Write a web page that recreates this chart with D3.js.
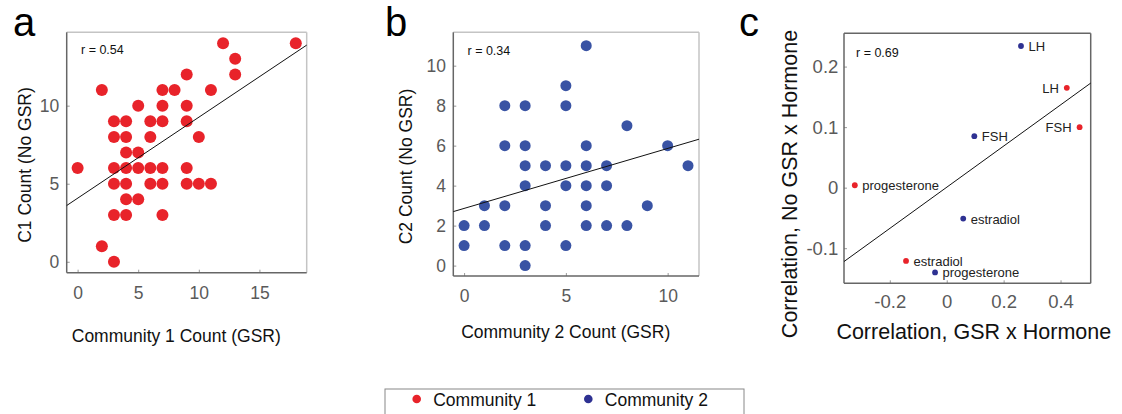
<!DOCTYPE html>
<html>
<head>
<meta charset="utf-8">
<script src="https://cdn.jsdelivr.net/npm/d3@7"></script>
<style>
  body { margin: 0; background: #fff; }
  svg text { font-family: "Liberation Sans", Arial, Helvetica, sans-serif; }
  .tick text { fill: #5a5a5a; }
  .tick line { stroke: #999; }
</style>
</head>
<body>
<svg id="chart" width="1122" height="414"></svg>
<script>
// panel a: community 1 counts, [GSR, No GSR]
var countsC1 = [
  [0, 6], [2, 11], [2, 1],
  [3, 9], [3, 8], [3, 6], [3, 5], [3, 3], [3, 0],
  [4, 9], [4, 8], [4, 7], [4, 6], [4, 5], [4, 4], [4, 3],
  [5, 10], [5, 7], [5, 6], [5, 4],
  [6, 9], [6, 8], [6, 6], [6, 5],
  [7, 11], [7, 10], [7, 9], [7, 6], [7, 5], [7, 3],
  [8, 11],
  [9, 12], [9, 10], [9, 9], [9, 6], [9, 5],
  [10, 8], [10, 5],
  [11, 11], [11, 5],
  [12, 14], [13, 13], [13, 12], [18, 14]
];
// panel b: community 2 counts
var countsC2 = [
  [0, 2], [0, 1], [1, 3], [1, 2],
  [2, 8], [2, 6], [2, 3], [2, 1],
  [3, 8], [3, 6], [3, 5], [3, 4], [3, 1], [3, 0],
  [4, 5], [4, 3], [4, 2],
  [5, 9], [5, 8], [5, 5], [5, 4], [5, 1],
  [6, 11], [6, 6], [6, 5], [6, 4], [6, 3], [6, 2],
  [7, 5], [7, 4], [7, 2],
  [8, 7], [8, 2], [9, 3], [10, 6], [11, 5]
];
// panel c: hormone correlations [GSR, No GSR]
var hormones = ["LH", "FSH", "estradiol", "progesterone"];
var corrC1 = [[0.422, 0.165], [0.467, 0.100], [-0.143, -0.121], [-0.323, 0.004]];
var corrC2 = [[0.261, 0.234], [0.097, 0.085], [0.058, -0.051], [-0.041, -0.140]];

// fitted lines [intercept, slope] and r values
var fitA = [4.07, 0.519], fitB = [2.86, 0.30], fitC = [0.0007, 0.34];
var rValues = ["r = 0.54", "r = 0.34", "r = 0.69"];

var ticksAx = [0, 5, 10, 15], ticksAy = [0, 5, 10];
var ticksBx = [0, 5, 10], ticksBy = [0, 2, 4, 6, 8, 10];
var ticksCx = [-0.2, 0, 0.2, 0.4], ticksCy = [-0.1, 0, 0.1, 0.2];

var legendNames = ["Community 1", "Community 2"];

var red = "#e8232a", blueB = "#3953a4", blueC = "#2e3192";

var svg = d3.select("#chart");

function panel(opt) {
  var x = d3.scaleLinear().domain(opt.xd).range([opt.l, opt.r]);
  var y = d3.scaleLinear().domain(opt.yd).range([opt.b, opt.t]);
  var g = svg.append("g");

  var fmt = opt.fmt || function (d) { return d; };

  var xa = g.append("g")
      .attr("transform", "translate(0," + opt.b + ")")
      .call(d3.axisBottom(x).tickValues(opt.xt).tickSize(-3).tickPadding(opt.xpad).tickFormat(fmt));
  xa.select(".domain").remove();
  xa.selectAll("text").style("font-size", opt.tickFont + "px");

  var ya = g.append("g")
      .attr("transform", "translate(" + opt.l + ",0)")
      .call(d3.axisLeft(y).tickValues(opt.yt).tickSize(-3).tickPadding(opt.ypad).tickFormat(fmt));
  ya.select(".domain").remove();
  ya.selectAll("text").style("font-size", opt.tickFont + "px");

  // frame
  g.append("line").attr("x1", opt.l).attr("x2", opt.r).attr("y1", opt.t).attr("y2", opt.t)
      .attr("stroke", opt.frameLight).attr("stroke-width", 1.5);
  g.append("line").attr("x1", opt.r).attr("x2", opt.r).attr("y1", opt.t).attr("y2", opt.b)
      .attr("stroke", opt.frameLight).attr("stroke-width", 1.5);
  g.append("line").attr("x1", opt.l).attr("x2", opt.r).attr("y1", opt.b).attr("y2", opt.b)
      .attr("stroke", opt.frameDark).attr("stroke-width", 1.5);
  g.append("line").attr("x1", opt.l).attr("x2", opt.l).attr("y1", opt.t).attr("y2", opt.b)
      .attr("stroke", opt.frameDark).attr("stroke-width", 1.5);

  // points
  opt.sets.forEach(function (s) {
    g.selectAll(null).data(s.data).enter().append("circle")
        .attr("cx", function (d) { return x(d[0]); })
        .attr("cy", function (d) { return y(d[1]); })
        .attr("r", opt.dotR)
        .attr("fill", s.color);
  });

  // fit line
  var x0 = opt.xd[0], x1 = opt.xd[1];
  g.append("line")
      .attr("x1", x(x0)).attr("y1", y(opt.fit[0] + opt.fit[1] * x0))
      .attr("x2", x(x1)).attr("y2", y(opt.fit[0] + opt.fit[1] * x1))
      .attr("stroke", "#111").attr("stroke-width", 1);

  // r label
  g.append("text").attr("x", opt.rx).attr("y", opt.ry)
      .style("font-size", "12.5px").attr("fill", "#111").text(opt.rText);

  // panel letter
  g.append("text").attr("x", opt.letterX).attr("y", 36)
      .style("font-size", "40px").attr("fill", "#000").text(opt.letter);

  // axis titles
  g.append("text").attr("x", opt.xlx).attr("y", opt.xly)
      .attr("text-anchor", "middle").style("font-size", opt.labFont + "px").attr("fill", "#111")
      .text(opt.xlab);
  g.append("text")
      .attr("transform", "translate(" + opt.ylx + "," + opt.yly + ") rotate(-90)")
      .attr("text-anchor", "middle").style("font-size", opt.labFont + "px").attr("fill", "#111")
      .text(opt.ylab);

  return { g: g, x: x, y: y };
}

panel({
  l: 66.7, r: 306.7, t: 32.3, b: 272.7,
  xd: [-0.9, 18.9], yd: [-0.7, 14.7],
  xt: ticksAx, yt: ticksAy, xpad: 13.5, ypad: 7.4, tickFont: 17.5,
  frameLight: "#c4c4c4", frameDark: "#666",
  sets: [{ data: countsC1, color: red }], dotR: 6,
  fit: fitA, rText: rValues[0], rx: 81, ry: 54,
  letter: "a", letterX: 13,
  xlab: "Community 1 Count (GSR)", xlx: 176.3, xly: 341.5,
  ylab: "C1 Count (No GSR)", ylx: 31, yly: 165, labFont: 17.5
});

panel({
  l: 453.3, r: 699, t: 32.3, b: 276,
  xd: [-0.53, 11.54], yd: [-0.52, 11.67],
  xt: ticksBx, yt: ticksBy, xpad: 13.6, ypad: 7.3, tickFont: 17.5,
  frameLight: "#c4c4c4", frameDark: "#666",
  sets: [{ data: countsC2, color: blueB }], dotR: 5.5,
  fit: fitB, rText: rValues[1], rx: 467.5, ry: 55,
  letter: "b", letterX: 385,
  xlab: "Community 2 Count (GSR)", xlx: 565.7, xly: 338,
  ylab: "C2 Count (No GSR)", ylx: 412, yly: 166.5, labFont: 17.5
});

var pc = panel({
  l: 844, r: 1090.7, t: 33.3, b: 283.3,
  xd: [-0.361, 0.506], yd: [-0.158, 0.255],
  xt: ticksCx, yt: ticksCy, xpad: 11.6, ypad: 5.7, tickFont: 18.5,
  fmt: function (d) { return d === 0 ? "0" : d.toFixed(1); },
  frameLight: "#666", frameDark: "#666",
  sets: [{ data: corrC1, color: red }, { data: corrC2, color: blueC }], dotR: 2.9,
  fit: fitC, rText: rValues[2], rx: 856, ry: 57.3,
  letter: "c", letterX: 739,
  xlab: "Correlation, GSR x Hormone", xlx: 973.8, xly: 339,
  ylab: "Correlation, No GSR x Hormone", ylx: 797, yly: 184, labFont: 21.5
});

// hormone labels (right of point unless close to the right edge)
[corrC1, corrC2].forEach(function (set) {
  pc.g.selectAll(null).data(set).enter().append("text")
      .attr("x", function (d) { return pc.x(d[0]) + (d[0] > 0.35 ? -8 : 7.5); })
      .attr("y", function (d) { return pc.y(d[1]) + 5; })
      .attr("text-anchor", function (d) { return d[0] > 0.35 ? "end" : "start"; })
      .style("font-size", "13px").attr("fill", "#222")
      .text(function (d, i) { return hormones[i]; });
});

// legend
var legend = svg.append("g");
legend.append("rect").attr("x", 385).attr("y", 389).attr("width", 359).attr("height", 40)
    .attr("fill", "#fff").attr("stroke", "#888").attr("stroke-width", 1);
var lx = d3.scalePoint().domain(legendNames).range([416.7, 588.3]);
var lcol = d3.scaleOrdinal().domain(legendNames).range([red, blueC]);
legendNames.forEach(function (n) {
  legend.append("circle").attr("cx", lx(n)).attr("cy", 399).attr("r", 4.3).attr("fill", lcol(n));
  legend.append("text").attr("x", lx(n) + 16.5).attr("y", 405.5)
      .style("font-size", "17.5px").attr("fill", "#111").text(n);
});
</script>
</body>
</html>
